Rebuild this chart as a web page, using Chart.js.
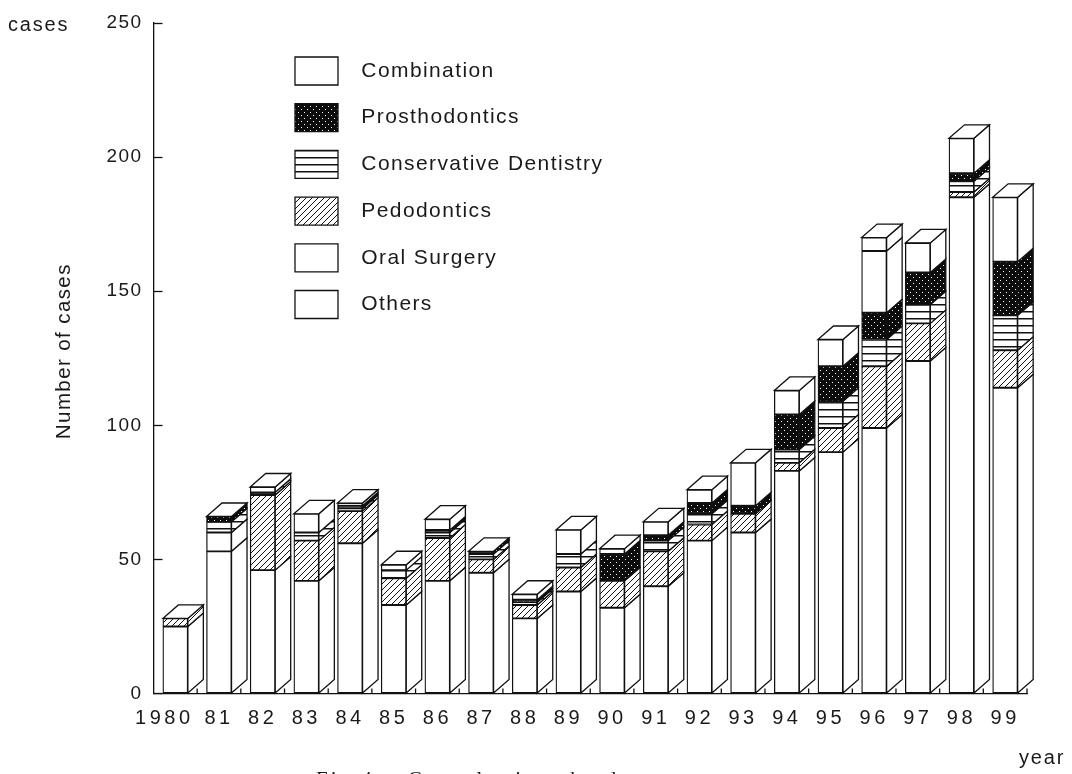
<!DOCTYPE html>
<html>
<head>
<meta charset="utf-8">
<title>Number of cases per year</title>
<style>
  html, body { margin: 0; padding: 0; background: #fff; }
  canvas { display: block; }
</style>
</head>
<body>
<canvas id="cases-chart" width="1072" height="774"></canvas>
<script src="https://cdn.jsdelivr.net/npm/chart.js@4/dist/chart.umd.js"></script>
<script>
const years = ['1980', '81', '82', '83', '84', '85', '86', '87', '88', '89', '90', '91', '92', '93', '94', '95', '96', '97', '98', '99'];

// stacked from the bottom up
const others         = [25, 53, 46, 42, 56, 33, 42, 45, 28, 38, 32, 40, 57, 60, 83, 90, 99, 124, 185, 114];
const oralSurgery    = [0, 7, 0, 0, 0, 0, 0, 0, 0, 0, 0, 0, 0, 0, 0, 0, 0, 0, 0, 0];
const pedodontics    = [3, 0, 28, 15, 12, 10, 16, 5, 5, 9, 10, 13, 6, 7, 3, 9, 23, 14, 2, 14];
const conservative   = [0, 4, 1, 3, 1, 3, 2, 2, 1, 5, 0, 4, 4, 0, 5, 10, 10, 7, 4, 13];
const prosthodontics = [0, 2, 0, 0, 1, 0, 1, 1, 1, 0, 10, 2, 4, 3, 13, 13, 10, 12, 3, 20];
const combination    = [0, 0, 2, 7, 1, 2, 4, 0, 2, 9, 2, 5, 5, 16, 9, 10, 23, 11, 13, 24];
// thin unlabelled band on top of the 1996 bar
const topBand        = [0, 0, 0, 0, 0, 0, 0, 0, 0, 0, 0, 0, 0, 0, 0, 0, 5, 0, 0, 0];

const legendNames = ['Others', 'Oral Surgery', 'Pedodontics', 'Conservative Dentistry', 'Prosthodontics', 'Combination'];
const yTicks = [0, 50, 100, 150, 200, 250];

const LINE = '#111';
const TEXT = '#1a1a1a';
const FONT = '"Liberation Sans", Arial, sans-serif';
const DEPTH_X = 15.5;
const DEPTH_Y = 13.5;

const tile = (size, paint) => {
    let c = document.createElement('canvas');
    c.width = size;
    c.height = size;
    paint(c.getContext('2d'), size);
    return document.createElement('canvas').getContext('2d').createPattern(c, 'repeat');
};

const hatchPattern = tile(6, (g, s) => {
    g.fillStyle = '#fff';
    g.fillRect(0, 0, s, s);
    g.strokeStyle = LINE;
    g.lineWidth = 1;
    g.beginPath();
    g.moveTo(-1, s + 1);
    g.lineTo(s + 1, -1);
    g.moveTo(-1, 1);
    g.lineTo(1, -1);
    g.moveTo(s - 1, s + 1);
    g.lineTo(s + 1, s - 1);
    g.stroke();
});

const stripePattern = tile(7, (g, s) => {
    g.fillStyle = '#fff';
    g.fillRect(0, 0, s, s);
    g.fillStyle = LINE;
    g.fillRect(0, 3, s, 1.5);
});

const stipplePattern = tile(6, (g, s) => {
    g.fillStyle = '#0c0c0c';
    g.fillRect(0, 0, s, s);
    g.fillStyle = '#fff';
    g.fillRect(1, 1, 1, 1);
    g.fillRect(4, 4, 1, 1);
});

const makeSet = (label, data, fill) => ({
    label: label,
    data: data,
    backgroundColor: fill,
    borderColor: LINE,
    borderWidth: 1.3,
    borderSkipped: false,
    barThickness: 25,
    stack: 'cases'
});

// category axis with wider digit spacing, the 1980 label sits left of its bar
class YearScale extends Chart.CategoryScale {
    static id = 'yearScale';
    static defaults = Chart.CategoryScale.defaults;

    _computeLabelItems(area) {
        let items = super._computeLabelItems(area);
        if (items.length) items[0].options.translation[0] -= 11;
        return items;
    }

    drawLabels(area) {
        let ctx = this.ctx;
        let old = ctx.letterSpacing;
        ctx.letterSpacing = '3.5px';
        super.drawLabels(area);
        ctx.letterSpacing = old;
    }
}
Chart.register(YearScale);

const sheet = {
    id: 'sheet',
    beforeDraw(chart) {
        chart.ctx.letterSpacing = '1.4px';
    },
    afterLayout(chart) {
        // legend floats in the upper part of the plot
        chart.legend.left = 295 - 18.7;
        chart.legend.top = 57 - 18.7;
    },
    afterDraw(chart) {
        let ctx = chart.ctx;
        ctx.save();
        ctx.fillStyle = TEXT;
        ctx.textAlign = 'left';
        ctx.textBaseline = 'alphabetic';
        ctx.font = '20px ' + FONT;
        ctx.letterSpacing = '1.8px';
        ctx.fillText('cases', 8, 31);
        ctx.fillText('year', 1019, 764);
        // caption is cut by the bottom edge of the scan
        ctx.letterSpacing = '3px';
        ctx.font = '21px "Liberation Serif", serif';
        ctx.fillText('Fig.4    Consultations by department', 316, 786);
        ctx.restore();
    }
};

// side and top faces of the blocks, worked out from the library's bar elements
const blocks = {
    id: 'blocks',
    beforeDatasetsDraw(chart) {
        let ctx = chart.ctx;
        ctx.save();
        ctx.strokeStyle = LINE;
        ctx.lineWidth = 1.3;
        ctx.lineJoin = 'miter';
        let tops = {};

        chart.data.datasets.forEach((set, d) => {
            chart.getDatasetMeta(d).data.forEach((bar, i) => {
                if (!set.data[i]) return;
                let xr = bar.x + bar.width / 2;
                ctx.beginPath();
                ctx.moveTo(xr, bar.base);
                ctx.lineTo(xr + DEPTH_X, bar.base - DEPTH_Y);
                ctx.lineTo(xr + DEPTH_X, bar.y - DEPTH_Y);
                ctx.lineTo(xr, bar.y);
                ctx.closePath();
                ctx.fillStyle = set.backgroundColor;
                ctx.fill();
                ctx.stroke();
                tops[i] = bar;
            });
        });

        Object.values(tops).forEach(bar => {
            let xl = bar.x - bar.width / 2;
            let xr = bar.x + bar.width / 2;
            ctx.beginPath();
            ctx.moveTo(xl, bar.y);
            ctx.lineTo(xl + DEPTH_X, bar.y - DEPTH_Y);
            ctx.lineTo(xr + DEPTH_X, bar.y - DEPTH_Y);
            ctx.lineTo(xr, bar.y);
            ctx.closePath();
            ctx.fillStyle = '#fff';
            ctx.fill();
            ctx.stroke();
        });

        // little marks between the blocks on the year axis
        let xs = chart.scales.x;
        ctx.beginPath();
        years.forEach((y, i) => {
            let px = xs.getPixelForTick(i) + (xs.getPixelForTick(1) - xs.getPixelForTick(0)) / 2;
            ctx.moveTo(px, xs.top);
            ctx.lineTo(px, xs.top - 5);
        });
        ctx.stroke();
        ctx.restore();
    }
};

document.addEventListener('DOMContentLoaded', () => {
    let ctx = document.getElementById('cases-chart');

    new Chart(ctx, {
        type: 'bar',
        data: {
            labels: years,
            datasets: [
                makeSet(legendNames[0], others, '#fff'),
                makeSet(legendNames[1], oralSurgery, '#fff'),
                makeSet(legendNames[2], pedodontics, hatchPattern),
                makeSet(legendNames[3], conservative, stripePattern),
                makeSet(legendNames[4], prosthodontics, stipplePattern),
                makeSet(legendNames[5], combination, '#fff'),
                makeSet('', topBand, '#fff')
            ]
        },
        plugins: [sheet, blocks],
        options: {
            responsive: false,
            animation: false,
            layout: {
                padding: { top: 23, right: 45, left: 0, bottom: 0 }
            },
            plugins: {
                tooltip: { enabled: false },
                legend: {
                    position: 'chartArea',
                    align: 'start',
                    reverse: true,
                    labels: {
                        boxWidth: 43,
                        boxHeight: 28,
                        padding: 18.7,
                        color: TEXT,
                        font: { size: 21, family: FONT },
                        filter: item => item.text.trim() !== '',
                        generateLabels(chart) {
                            return Chart.Legend.defaults.labels.generateLabels(chart).map(item => {
                                if (item.text) item.text = '\u2009 ' + item.text;
                                return item;
                            });
                        }
                    }
                }
            },
            scales: {
                x: {
                    type: 'yearScale',
                    stacked: true,
                    offset: true,
                    afterFit: scale => { scale.height = 80.5; },
                    grid: {
                        offset: true,
                        drawOnChartArea: false,
                        drawTicks: false
                    },
                    border: { color: LINE, width: 1.3 },
                    ticks: {
                        color: TEXT,
                        padding: 13,
                        maxRotation: 0,
                        autoSkip: false,
                        font: { size: 20, family: FONT }
                    }
                },
                y: {
                    stacked: true,
                    min: yTicks[0],
                    max: yTicks[yTicks.length - 1],
                    afterFit: scale => {
                        scale.width = 153.5;
                        // the wide tick padding must not push the plot top down
                        scale.paddingTop = 0;
                    },
                    grid: {
                        drawOnChartArea: false,
                        drawTicks: true,
                        tickLength: -9,
                        tickColor: LINE,
                        tickWidth: 1.3
                    },
                    border: { color: LINE, width: 1.3 },
                    ticks: {
                        stepSize: 50,
                        color: TEXT,
                        padding: 20,
                        font: { size: 19, family: FONT }
                    },
                    title: {
                        display: true,
                        text: '  Number of cases',
                        color: TEXT,
                        padding: { top: 52, bottom: 0 },
                        font: { size: 20.5, family: FONT }
                    }
                }
            }
        }
    });
});
</script>
</body>
</html>
